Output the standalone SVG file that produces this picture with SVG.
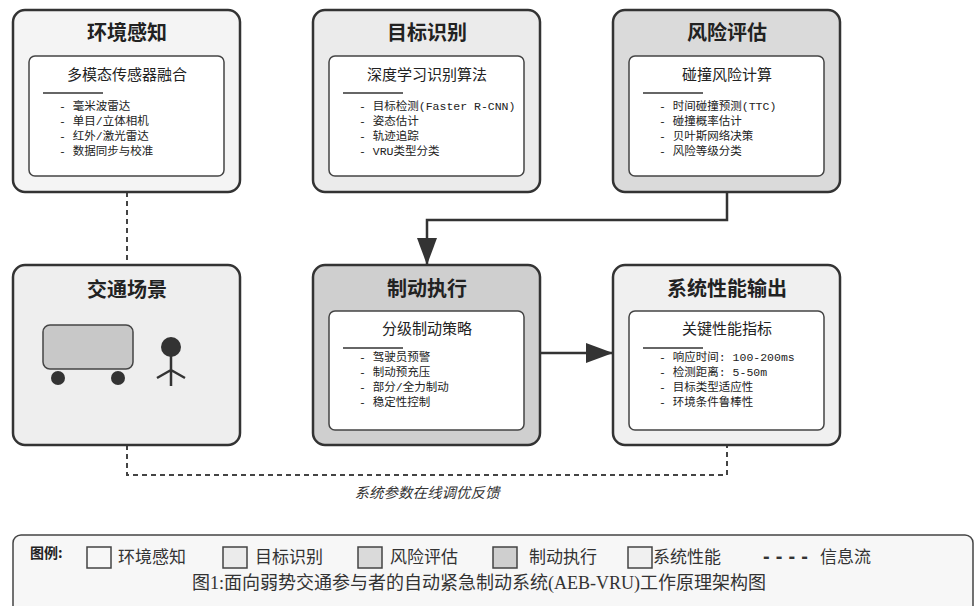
<svg xmlns="http://www.w3.org/2000/svg" width="978" height="606" viewBox="0 0 978 606">
<style>
.outer{stroke:#333;stroke-width:2.5}
.inner{fill:#fff;stroke:#444;stroke-width:1.5}
.title{font-family:"Noto Sans CJK SC","Noto Sans",sans-serif;font-size:20px;font-weight:bold;fill:#222;text-anchor:middle}
.sub{font-family:"Noto Sans CJK SC",sans-serif;font-size:15px;fill:#222;text-anchor:middle}
.item{font-family:"Liberation Mono","Noto Sans CJK SC",monospace;font-size:11.5px;fill:#222}
.uline{stroke:#333;stroke-width:1.5}
.conn{fill:none;stroke:#333;stroke-width:2.5}
.dash{fill:none;stroke:#444;stroke-width:2;stroke-dasharray:5,4}
.leg{font-family:"Liberation Serif","Noto Sans CJK SC",serif;font-size:17px;fill:#333}
.sq{stroke:#444;stroke-width:1.5}
</style>
<defs>
<marker id="arr" markerUnits="userSpaceOnUse" markerWidth="28" markerHeight="22" refX="27" refY="10" orient="auto">
<path d="M0,0 L27,10 L0,20 z" fill="#333"/>
</marker>
</defs>
<rect width="978" height="606" fill="#fff"/>

<g id="connectors">
<path class="dash" d="M127,192 V265"/>
<path class="dash" d="M127,445 V475 H727 V445"/>
<path class="conn" d="M727,192 V220 H427 V265" marker-end="url(#arr)"/>
<path class="conn" d="M540,353 H613" marker-end="url(#arr)"/>
<text x="427" y="498" text-anchor="middle" font-family="Noto Sans CJK SC,sans-serif" font-size="14.5" font-style="italic" fill="#333">系统参数在线调优反馈</text>
</g>

<g id="perception">
<rect class="outer" x="13" y="10" width="227" height="182" rx="12" fill="#f4f4f4"/>
<text class="title" x="127" y="40">环境感知</text>
<rect class="inner" x="29" y="56" width="195" height="120" rx="6"/>
<text class="sub" x="127" y="80">多模态传感器融合</text>
<line class="uline" x1="43" y1="93" x2="103" y2="93"/>
<text class="item" x="59" y="110">- 毫米波雷达</text>
<text class="item" x="59" y="125">- 单目/立体相机</text>
<text class="item" x="59" y="140">- 红外/激光雷达</text>
<text class="item" x="59" y="155">- 数据同步与校准</text>
</g>

<g id="recognition">
<rect class="outer" x="313" y="10" width="227" height="182" rx="12" fill="#ebebeb"/>
<text class="title" x="427" y="40">目标识别</text>
<rect class="inner" x="329" y="56" width="195" height="120" rx="6"/>
<text class="sub" x="427" y="80">深度学习识别算法</text>
<line class="uline" x1="343" y1="93" x2="403" y2="93"/>
<text class="item" x="359" y="110">- 目标检测(Faster R-CNN)</text>
<text class="item" x="359" y="125">- 姿态估计</text>
<text class="item" x="359" y="140">- 轨迹追踪</text>
<text class="item" x="359" y="155">- VRU类型分类</text>
</g>

<g id="risk">
<rect class="outer" x="613" y="10" width="227" height="182" rx="12" fill="#dadada"/>
<text class="title" x="727" y="40">风险评估</text>
<rect class="inner" x="629" y="56" width="195" height="120" rx="6"/>
<text class="sub" x="727" y="80">碰撞风险计算</text>
<line class="uline" x1="643" y1="93" x2="703" y2="93"/>
<text class="item" x="659" y="110">- 时间碰撞预测(TTC)</text>
<text class="item" x="659" y="125">- 碰撞概率估计</text>
<text class="item" x="659" y="140">- 贝叶斯网络决策</text>
<text class="item" x="659" y="155">- 风险等级分类</text>
</g>

<g id="scene">
<rect class="outer" x="13" y="265" width="227" height="180" rx="12" fill="#eeeeee"/>
<text class="title" x="127" y="297">交通场景</text>
<rect x="43" y="325" width="90" height="44" rx="7" fill="#c8c8c8" stroke="#444" stroke-width="1.5"/>
<circle cx="58" cy="378" r="7" fill="#333"/>
<circle cx="118" cy="378" r="7" fill="#333"/>
<circle cx="171" cy="347" r="10" fill="#333"/>
<path d="M171,356 V386 M171,370 L157,378 M171,370 L185,378" stroke="#333" stroke-width="2.5" fill="none"/>
</g>

<g id="braking">
<rect class="outer" x="313" y="265" width="227" height="180" rx="12" fill="#cfcfcf"/>
<text class="title" x="427" y="296">制动执行</text>
<rect class="inner" x="329" y="311" width="195" height="119" rx="6"/>
<text class="sub" x="427" y="334">分级制动策略</text>
<line class="uline" x1="343" y1="348" x2="403" y2="348"/>
<text class="item" x="359" y="361">- 驾驶员预警</text>
<text class="item" x="359" y="376">- 制动预充压</text>
<text class="item" x="359" y="391">- 部分/全力制动</text>
<text class="item" x="359" y="406">- 稳定性控制</text>
</g>

<g id="output">
<rect class="outer" x="613" y="265" width="227" height="180" rx="12" fill="#f0f0f0"/>
<text class="title" x="727" y="296">系统性能输出</text>
<rect class="inner" x="629" y="311" width="195" height="119" rx="6"/>
<text class="sub" x="727" y="334">关键性能指标</text>
<line class="uline" x1="643" y1="348" x2="703" y2="348"/>
<text class="item" x="659" y="361">- 响应时间: 100-200ms</text>
<text class="item" x="659" y="376">- 检测距离: 5-50m</text>
<text class="item" x="659" y="391">- 目标类型适应性</text>
<text class="item" x="659" y="406">- 环境条件鲁棒性</text>
</g>

<g id="legend">
<rect x="13" y="535" width="960" height="85" rx="8" fill="#f7f7f7" stroke="#444" stroke-width="1.5"/>
<text x="30" y="558" font-family="Noto Sans CJK SC,sans-serif" font-size="14" font-weight="bold" fill="#222">图例:</text>
<rect class="sq" x="87" y="547" width="24" height="21" fill="#f7f7f7"/>
<text class="leg" x="118" y="563">环境感知</text>
<rect class="sq" x="223" y="547" width="24" height="21" fill="#ebebeb"/>
<text class="leg" x="255" y="563">目标识别</text>
<rect class="sq" x="358" y="547" width="24" height="21" fill="#dadada"/>
<text class="leg" x="390" y="563">风险评估</text>
<rect class="sq" x="493" y="547" width="24" height="21" fill="#cfcfcf"/>
<text class="leg" x="529" y="563">制动执行</text>
<rect class="sq" x="628" y="547" width="24" height="21" fill="#f0f0f0"/>
<text class="leg" x="653" y="563">系统性能</text>
<text x="763" y="563" font-family="Liberation Sans,sans-serif" font-size="20" font-weight="bold" fill="#333" textLength="45" lengthAdjust="spacing">----</text>
<text class="leg" x="820" y="563">信息流</text>
<text x="479" y="589" text-anchor="middle" font-family="Liberation Serif,Noto Sans CJK SC,serif" font-size="18" fill="#333">图1:面向弱势交通参与者的自动紧急制动系统(AEB-VRU)工作原理架构图</text>
</g>
</svg>
